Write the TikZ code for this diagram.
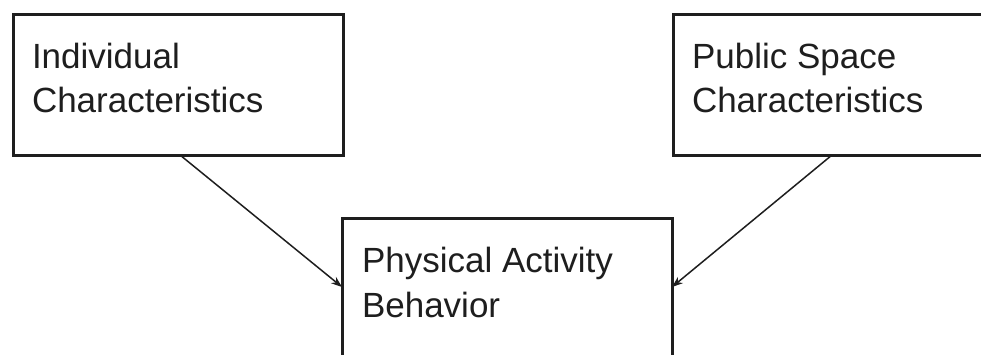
\documentclass[tikz,border=0pt]{standalone}
\usepackage{fontspec}
\setmainfont{Liberation Sans}
\usetikzlibrary{arrows.meta}
\definecolor{ink}{HTML}{1E1E1E}
\tikzset{
  boxnode/.style={draw=ink, line width=3bp, rectangle, inner sep=0pt, outer sep=0pt,
    minimum width=330bp, minimum height=141bp, anchor=north west},
  txt/.style={text=ink, inner sep=0pt, outer sep=0pt, align=left, anchor=base west,
    font=\fontsize{35bp}{44bp}\selectfont},
  arr/.style={draw=ink, line width=1.5bp, -{Stealth[length=11bp,width=8bp]}}
}
\begin{document}
\begin{tikzpicture}[x=1bp,y=-1bp]
\useasboundingbox (0,0) rectangle (981,354);
\clip (0,0) rectangle (981,354);
\fill[white] (0,0) rectangle (981,354);
\node[boxnode] (lbox) at (13,14) {};
\node[boxnode] (rbox) at (673,14) {};
\node[boxnode] (pbox) at (342,218) {};
\node[txt] (ltxt) at ([xshift=19bp,yshift=-98bp]lbox.north west) {Individual\\Characteristics};
\node[txt] (rtxt) at ([xshift=19bp,yshift=-98bp]rbox.north west) {Public Space\\Characteristics};
\node[txt, font=\fontsize{35bp}{45bp}\selectfont] (ptxt) at ([xshift=20bp,yshift=-99bp]pbox.north west) {Physical Activity\\Behavior};
\draw[arr] ([xshift=167bp]lbox.south west) -- ([yshift=-69bp]pbox.north west);
\draw[arr] ([xshift=159bp]rbox.south west) -- ([yshift=-69bp]pbox.north east);
\end{tikzpicture}
\end{document}
